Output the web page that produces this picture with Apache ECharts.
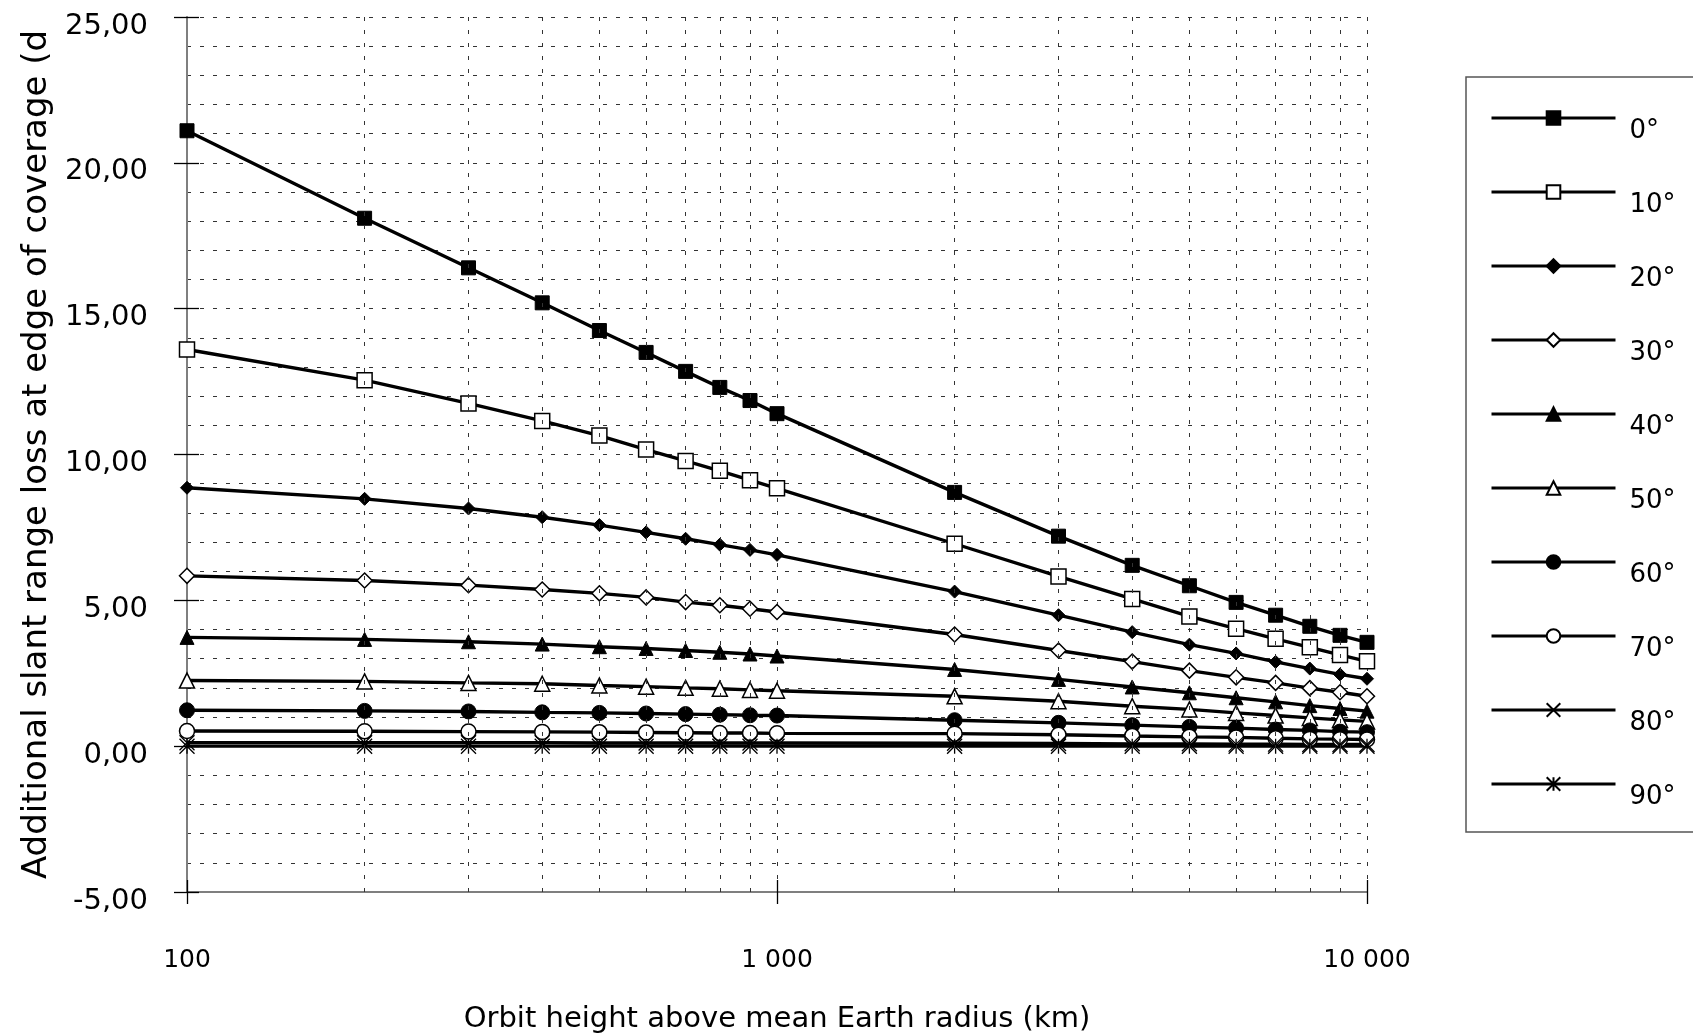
<!DOCTYPE html>
<html>
<head>
<meta charset="utf-8">
<title>Additional slant range loss vs orbit height</title>
<script src="https://cdn.jsdelivr.net/npm/echarts@6/dist/echarts.min.js"></script>
<style>
  html, body { margin: 0; padding: 0; background: #ffffff; }
  #chart { width: 1693px; height: 1033px; }
</style>
</head>
<body>
<div id="chart"></div>
<script>
// Orbit heights (km) at which the loss was evaluated
const heights = [100, 200, 300, 400, 500, 600, 700, 800, 900, 1000,
                 2000, 3000, 4000, 5000, 6000, 7000, 8000, 9000, 10000];

// Additional slant range loss (dB) per minimum elevation angle
const loss0  = [21.10, 18.10, 16.40, 15.20, 14.25, 13.50, 12.85, 12.30, 11.85, 11.40,
                8.70, 7.20, 6.20, 5.50, 4.93, 4.49, 4.11, 3.80, 3.56];
const loss10 = [13.60, 12.55, 11.75, 11.15, 10.65, 10.17, 9.78, 9.44, 9.12, 8.84,
                6.94, 5.82, 5.05, 4.45, 4.03, 3.68, 3.39, 3.13, 2.91];
const loss20 = [8.86, 8.48, 8.15, 7.85, 7.58, 7.33, 7.11, 6.91, 6.73, 6.56,
                5.30, 4.49, 3.91, 3.48, 3.18, 2.89, 2.66, 2.46, 2.31];
const loss30 = [5.84, 5.68, 5.52, 5.37, 5.24, 5.10, 4.94, 4.83, 4.71, 4.60,
                3.83, 3.28, 2.90, 2.59, 2.36, 2.17, 1.99, 1.85, 1.71];
const loss40 = [3.73, 3.66, 3.58, 3.50, 3.41, 3.35, 3.28, 3.22, 3.16, 3.09,
                2.63, 2.29, 2.03, 1.83, 1.66, 1.52, 1.39, 1.29, 1.20];
const loss50 = [2.25, 2.22, 2.17, 2.14, 2.08, 2.04, 2.00, 1.97, 1.93, 1.90,
                1.71, 1.54, 1.37, 1.26, 1.14, 1.05, 0.97, 0.90, 0.85];
const loss60 = [1.23, 1.21, 1.19, 1.16, 1.14, 1.12, 1.10, 1.08, 1.06, 1.05,
                0.89, 0.80, 0.72, 0.66, 0.62, 0.57, 0.54, 0.50, 0.48];
const loss70 = [0.52, 0.51, 0.50, 0.49, 0.48, 0.47, 0.46, 0.45, 0.45, 0.44,
                0.43, 0.39, 0.35, 0.32, 0.30, 0.27, 0.25, 0.24, 0.23];
const loss80 = [0.12, 0.12, 0.12, 0.12, 0.11, 0.11, 0.11, 0.11, 0.11, 0.11,
                0.10, 0.09, 0.08, 0.08, 0.07, 0.07, 0.06, 0.06, 0.06];
const loss90 = [0, 0, 0, 0, 0, 0, 0, 0, 0, 0,
                0, 0, 0, 0, 0, 0, 0, 0, 0];

const seriesNames = ['0°', '10°', '20°', '30°', '40°', '50°', '60°', '70°', '80°', '90°'];
const seriesValues = [loss0, loss10, loss20, loss30, loss40, loss50, loss60, loss70, loss80, loss90];

// Intermediate log-decade positions that get a dashed vertical grid line
const minorGridHeights = [200, 300, 400, 500, 600, 700, 800, 900,
                          2000, 3000, 4000, 5000, 6000, 7000, 8000, 9000];

const FONT = 'DejaVu Sans';
const INK = '#000000';
const AXIS_GREY = '#7f7f7f';
const DASH = { type: [4, 9], color: '#333333', width: 1 };

// Marker for each elevation curve: [symbol, size, filled]
const CROSS = 'path://M0,0L10,10M10,0L0,10';
const STAR = 'path://M0,0L10,10M10,0L0,10M5,0L5,10';
const markers = [
  ['rect', 14, true],
  ['rect', 15, false],
  ['diamond', 13, true],
  ['diamond', 15, false],
  ['triangle', 14, true],
  ['triangle', 15, false],
  ['circle', 15, true],
  ['circle', 15, false],
  [CROSS, 15, null],
  [STAR, 15, null]
];

function pairs(values) {
  return heights.map((h, i) => [h, values[i]]);
}

const curveSeries = seriesNames.map((name, k) => {
  const [symbol, size, filled] = markers[k];
  let itemStyle;
  if (filled === true) {
    itemStyle = { color: INK, borderColor: INK, borderWidth: 1 };
  } else if (filled === false) {
    itemStyle = { color: '#ffffff', borderColor: INK, borderWidth: 1.5 };
  } else {
    itemStyle = { color: 'rgba(0,0,0,0)', borderColor: INK, borderWidth: 1.3 };
  }
  return {
    name: name,
    type: 'line',
    xAxisIndex: 0,
    yAxisIndex: 0,
    data: pairs(seriesValues[k]),
    symbol: symbol,
    symbolSize: size,
    showSymbol: true,
    lineStyle: { color: INK, width: 3.4 },
    itemStyle: itemStyle,
    z: 3,
    animation: false
  };
});

const minorGridSeries = {
  name: 'minorGrid',
  type: 'line',
  xAxisIndex: 0,
  yAxisIndex: 0,
  data: [],
  silent: true,
  z: 1,
  animation: false,
  markLine: {
    silent: true,
    animation: false,
    symbol: ['none', 'none'],
    label: { show: false },
    lineStyle: DASH,
    emphasis: { disabled: true },
    data: minorGridHeights.map(h => ({ xAxis: h }))
  }
};

const fmtThousands = v => String(Math.round(v)).replace(/\B(?=(\d{3})+(?!\d))/g, ' ');
// Decimal comma; a small spacer line sits the number slightly below its tick
const fmtDecimal = v => '{g| }\n{v|' + v.toFixed(2).replace('.', ',') + '}';

const chart = echarts.init(document.getElementById('chart'), null, { renderer: 'canvas' });

chart.setOption({
  backgroundColor: '#ffffff',
  animation: false,
  grid: { left: 187, right: 326, top: 17, bottom: 141, containLabel: false, outerBoundsMode: 'none' },
  xAxis: [
    {
      type: 'log',
      logBase: 10,
      min: 100,
      max: 10000,
      position: 'bottom',
      name: 'Orbit height above mean Earth radius (km)',
      nameLocation: 'middle',
      nameGap: 113,
      nameTextStyle: { fontFamily: FONT, fontSize: 29, color: INK },
      axisLine: { show: true, onZero: false, lineStyle: { color: AXIS_GREY, width: 2 } },
      axisTick: { show: true, length: 12, lineStyle: { color: INK, width: 1.3 } },
      minorTick: { show: false },
      axisLabel: { fontFamily: FONT, fontSize: 25, color: INK, margin: 56, formatter: fmtThousands },
      splitLine: { show: true, lineStyle: DASH }
    },
    {
      type: 'log',
      logBase: 10,
      min: 100,
      max: 10000,
      position: 'bottom',
      axisLine: { show: false, onZero: false },
      axisTick: { show: true, inside: true, length: 12, lineStyle: { color: INK, width: 1.3 } },
      axisLabel: { show: false },
      splitLine: { show: false }
    }
  ],
  yAxis: [
    {
      type: 'value',
      min: -5,
      max: 25,
      interval: 5,
      position: 'left',
      name: 'Additional slant range loss at edge of coverage (d',
      nameLocation: 'middle',
      nameGap: 132,
      nameRotate: 90,
      nameTextStyle: { fontFamily: FONT, fontSize: 34, color: INK },
      axisLine: { show: true, onZero: false, lineStyle: { color: AXIS_GREY, width: 2 } },
      axisTick: { show: true, length: 13, lineStyle: { color: INK, width: 1.3 } },
      axisLabel: {
        fontFamily: FONT,
        fontSize: 29,
        color: INK,
        margin: 39,
        formatter: fmtDecimal,
        rich: {
          g: { fontSize: 10, lineHeight: 18 },
          v: { fontFamily: FONT, fontSize: 29, lineHeight: 30, color: INK }
        }
      },
      splitLine: { show: true, lineStyle: DASH },
      minorTick: { show: false, splitNumber: 5 },
      minorSplitLine: { show: true, lineStyle: DASH }
    },
    {
      type: 'value',
      min: -5,
      max: 25,
      interval: 5,
      position: 'left',
      axisLine: { show: false, onZero: false },
      axisTick: { show: true, inside: true, length: 12, lineStyle: { color: INK, width: 1.3 } },
      axisLabel: { show: false },
      splitLine: { show: false }
    }
  ],
  legend: {
    orient: 'vertical',
    left: 1466,
    top: 77,
    data: seriesNames,
    selectedMode: false,
    itemWidth: 124,
    itemHeight: 17,
    itemGap: 22,
    padding: [15, 40, 22, 24],
    borderColor: '#555555',
    borderWidth: 1.5,
    backgroundColor: '#ffffff',
    lineStyle: { width: 3 },
    formatter: name => '{gap| }\n{t|' + name + '}',
    textStyle: {
      fontFamily: FONT,
      fontSize: 26,
      color: INK,
      rich: {
        gap: { fontSize: 26, lineHeight: 26, padding: [0, 0, 0, 9] },
        t: { fontFamily: FONT, fontSize: 26, lineHeight: 26, color: INK, padding: [0, 0, 0, 9] }
      }
    }
  },
  series: [minorGridSeries].concat(curveSeries)
});
</script>
</body>
</html>
